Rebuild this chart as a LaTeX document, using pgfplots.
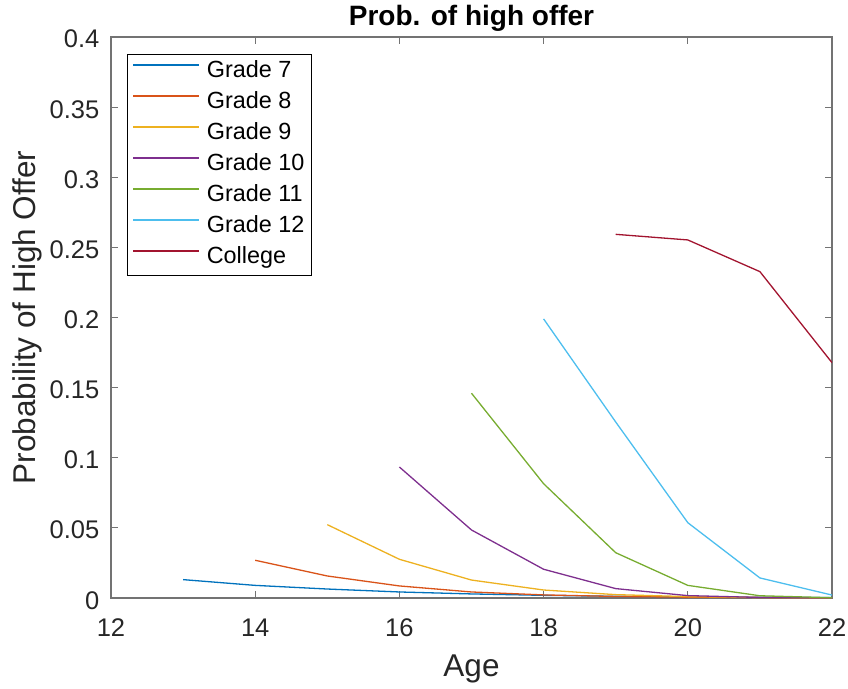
\documentclass[border=0pt]{standalone}
\usepackage{pgfplots}
\pgfplotsset{compat=1.18}
\usepackage{fontspec}
\setmainfont{Liberation Sans}
\definecolor{m1}{rgb}{0,0.447,0.741}
\definecolor{m2}{rgb}{0.85,0.325,0.098}
\definecolor{m3}{rgb}{0.929,0.694,0.125}
\definecolor{m4}{rgb}{0.494,0.184,0.556}
\definecolor{m5}{rgb}{0.466,0.674,0.188}
\definecolor{m6}{rgb}{0.301,0.745,0.933}
\definecolor{m7}{rgb}{0.635,0.078,0.184}
\definecolor{axgray}{gray}{0.45}
\definecolor{txt}{gray}{0.15}
\begin{document}
\begin{tikzpicture}
\path[use as bounding box] (-111pt,-90pt) rectangle (737pt,598pt);
\begin{axis}[
  at={(0pt,0pt)}, anchor=south west,
  scale only axis, width=721pt, height=561pt,
  xmin=12, xmax=22, ymin=0, ymax=0.4,
  xtick={12,14,...,22}, ytick={0,0.05,...,0.4},
  yticklabels={0,0.05,0.1,0.15,0.2,0.25,0.3,0.35,0.4},
  tick align=inside, major tick length=7pt,
  axis line style={axgray, line width=1.1pt},
  tick style={axgray, line width=1.1pt},
  tick label style={font=\fontsize{25.5}{28}\selectfont, text=txt},
  /pgf/number format/assume math mode=true,
  xticklabel style={anchor=base, inner sep=0pt, yshift=-38pt},
  yticklabel style={anchor=base east, inner sep=0pt, xshift=-11.5pt, yshift=-11pt},
  xlabel={Age}, ylabel={Probability of High Offer},
  label style={font=\fontsize{31.5}{34}\selectfont, text=txt},
  xlabel style={at={(axis description cs:0.5,0)}, anchor=base, inner sep=0pt, yshift=-78pt},
  ylabel style={at={(axis description cs:-0.1054,0.5)}, anchor=base, inner sep=0pt},
  every axis title shift=0pt,
  title={\textbf{Prob. of high offer}},
  title style={font=\fontsize{28}{30}\selectfont, at={(axis description cs:0.5,1.0196)}, anchor=base, inner sep=0pt},
  legend cell align=left,
  legend style={font=\fontsize{23.4}{25}\selectfont, at={(0.022,0.970)}, anchor=north west,
    draw=black, line width=0.7pt, inner xsep=5pt, inner ysep=6.5pt,
    nodes={inner xsep=2pt, inner ysep=0pt, text height=17pt, text depth=5pt},
    row sep=9pt, /tikz/every odd column/.append style={column sep=5pt}},
  legend image code/.code={\path[#1, line width=1.6pt] (0pt,6.5pt) -- (66pt,6.5pt);},
  every axis plot/.append style={line width=1.3pt},
]
\addplot[draw=m1] coordinates {(13,0.0131)(14,0.0090)(15,0.0064)(16,0.0043)(17,0.0029)(18,0.0019)(19,0.0012)(20,0.0008)(21,0.0005)(22,0.0003)};
\addlegendentry{Grade 7}
\addplot[draw=m2] coordinates {(14,0.0269)(15,0.0157)(16,0.0086)(17,0.0043)(18,0.0022)(19,0.0011)(20,0.0006)(21,0.0003)(22,0.0002)};
\addlegendentry{Grade 8}
\addplot[draw=m3] coordinates {(15,0.0523)(16,0.0276)(17,0.0128)(18,0.0057)(19,0.0024)(20,0.0010)(21,0.0004)(22,0.0001)};
\addlegendentry{Grade 9}
\addplot[draw=m4] coordinates {(16,0.0934)(17,0.0485)(18,0.0205)(19,0.0067)(20,0.0017)(21,0.0004)(22,0.0001)};
\addlegendentry{Grade 10}
\addplot[draw=m5] coordinates {(17,0.1460)(18,0.0815)(19,0.0323)(20,0.0090)(21,0.0016)(22,0.0002)};
\addlegendentry{Grade 11}
\addplot[draw=m6] coordinates {(18,0.1990)(19,0.1255)(20,0.0537)(21,0.0143)(22,0.0021)};
\addlegendentry{Grade 12}
\addplot[draw=m7] coordinates {(19,0.2593)(20,0.2553)(21,0.2327)(22,0.1678)};
\addlegendentry{College}
\end{axis}
\end{tikzpicture}
\end{document}
